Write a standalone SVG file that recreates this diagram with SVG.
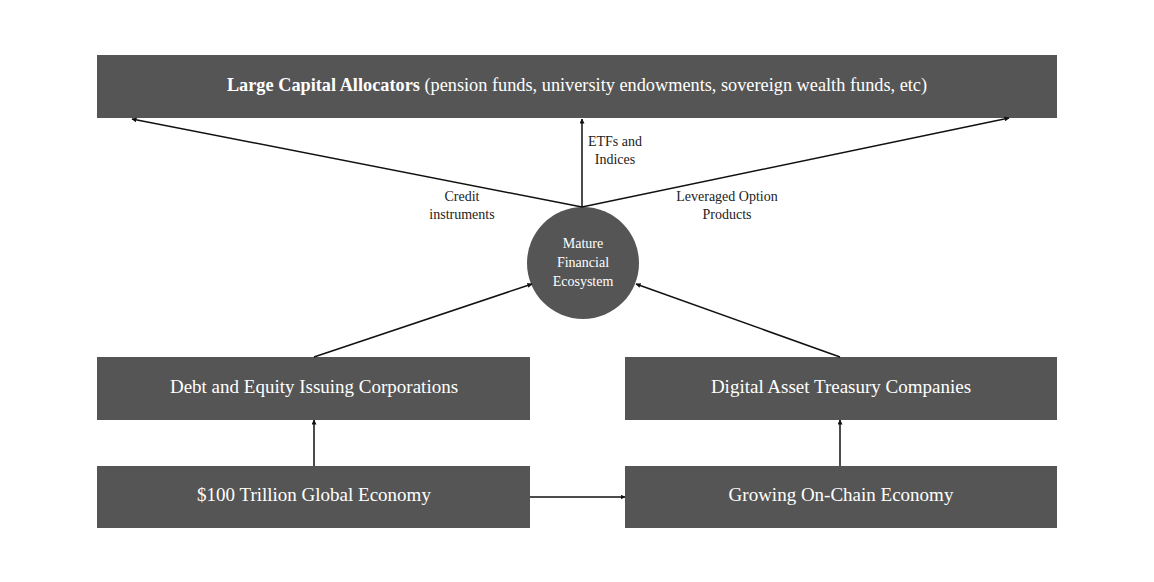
<svg xmlns="http://www.w3.org/2000/svg" width="1154" height="582" viewBox="0 0 1154 582">
<style>
.box{fill:#555555}
.lbl{font-family:"Liberation Serif","Times New Roman",serif;fill:#ffffff;text-anchor:middle}
.big{font-size:19px}
.top{font-size:18.3px}
.sm{font-size:14px}
.edge{font-family:"Liberation Serif","Times New Roman",serif;fill:#222222;font-size:14px;text-anchor:middle}
.conn{stroke:#111111;stroke-width:1.5;fill:none;marker-end:url(#ah)}
</style>
<defs>
<marker id="ah" viewBox="0 0 10 10" refX="9" refY="5" markerWidth="5" markerHeight="5" orient="auto" markerUnits="userSpaceOnUse">
<path d="M0,0 L10,5 L0,10 z" fill="#111111"/>
</marker>
</defs>
<rect width="1154" height="582" fill="#ffffff"/>
<g id="allocators">
<rect class="box" x="97" y="55" width="960" height="63"/>
<text class="lbl top" x="577" y="91"><tspan font-weight="bold">Large Capital Allocators</tspan> (pension funds, university endowments, sovereign wealth funds, etc)</text>
</g>
<g id="ecosystem">
<circle class="box" cx="583" cy="263" r="56"/>
<text class="lbl sm" x="583" y="248">Mature</text>
<text class="lbl sm" x="583" y="267">Financial</text>
<text class="lbl sm" x="583" y="286">Ecosystem</text>
</g>
<g id="corporations">
<rect class="box" x="97" y="357" width="433" height="63"/>
<text class="lbl big" x="314" y="393">Debt and Equity Issuing Corporations</text>
</g>
<g id="dat">
<rect class="box" x="625" y="357" width="432" height="63"/>
<text class="lbl big" x="841" y="393">Digital Asset Treasury Companies</text>
</g>
<g id="global">
<rect class="box" x="97" y="466" width="433" height="62"/>
<text class="lbl big" x="314" y="501">$100 Trillion Global Economy</text>
</g>
<g id="onchain">
<rect class="box" x="625" y="466" width="432" height="62"/>
<text class="lbl big" x="841" y="501">Growing On-Chain Economy</text>
</g>
<g id="connectors">
<line class="conn" x1="582" y1="207" x2="132" y2="119"/>
<line class="conn" x1="582" y1="207" x2="582" y2="119"/>
<line class="conn" x1="582" y1="207" x2="1009" y2="118"/>
<line class="conn" x1="314" y1="357" x2="532" y2="284"/>
<line class="conn" x1="840" y1="357" x2="636" y2="284"/>
<line class="conn" x1="314" y1="466" x2="314" y2="420"/>
<line class="conn" x1="840" y1="466" x2="840" y2="420"/>
<line class="conn" x1="530" y1="497" x2="625" y2="497"/>
<text class="edge" x="615" y="146">ETFs and</text>
<text class="edge" x="615" y="164">Indices</text>
<text class="edge" x="462" y="201">Credit</text>
<text class="edge" x="462" y="219">instruments</text>
<text class="edge" x="727" y="201">Leveraged Option</text>
<text class="edge" x="727" y="219">Products</text>
</g>
</svg>
